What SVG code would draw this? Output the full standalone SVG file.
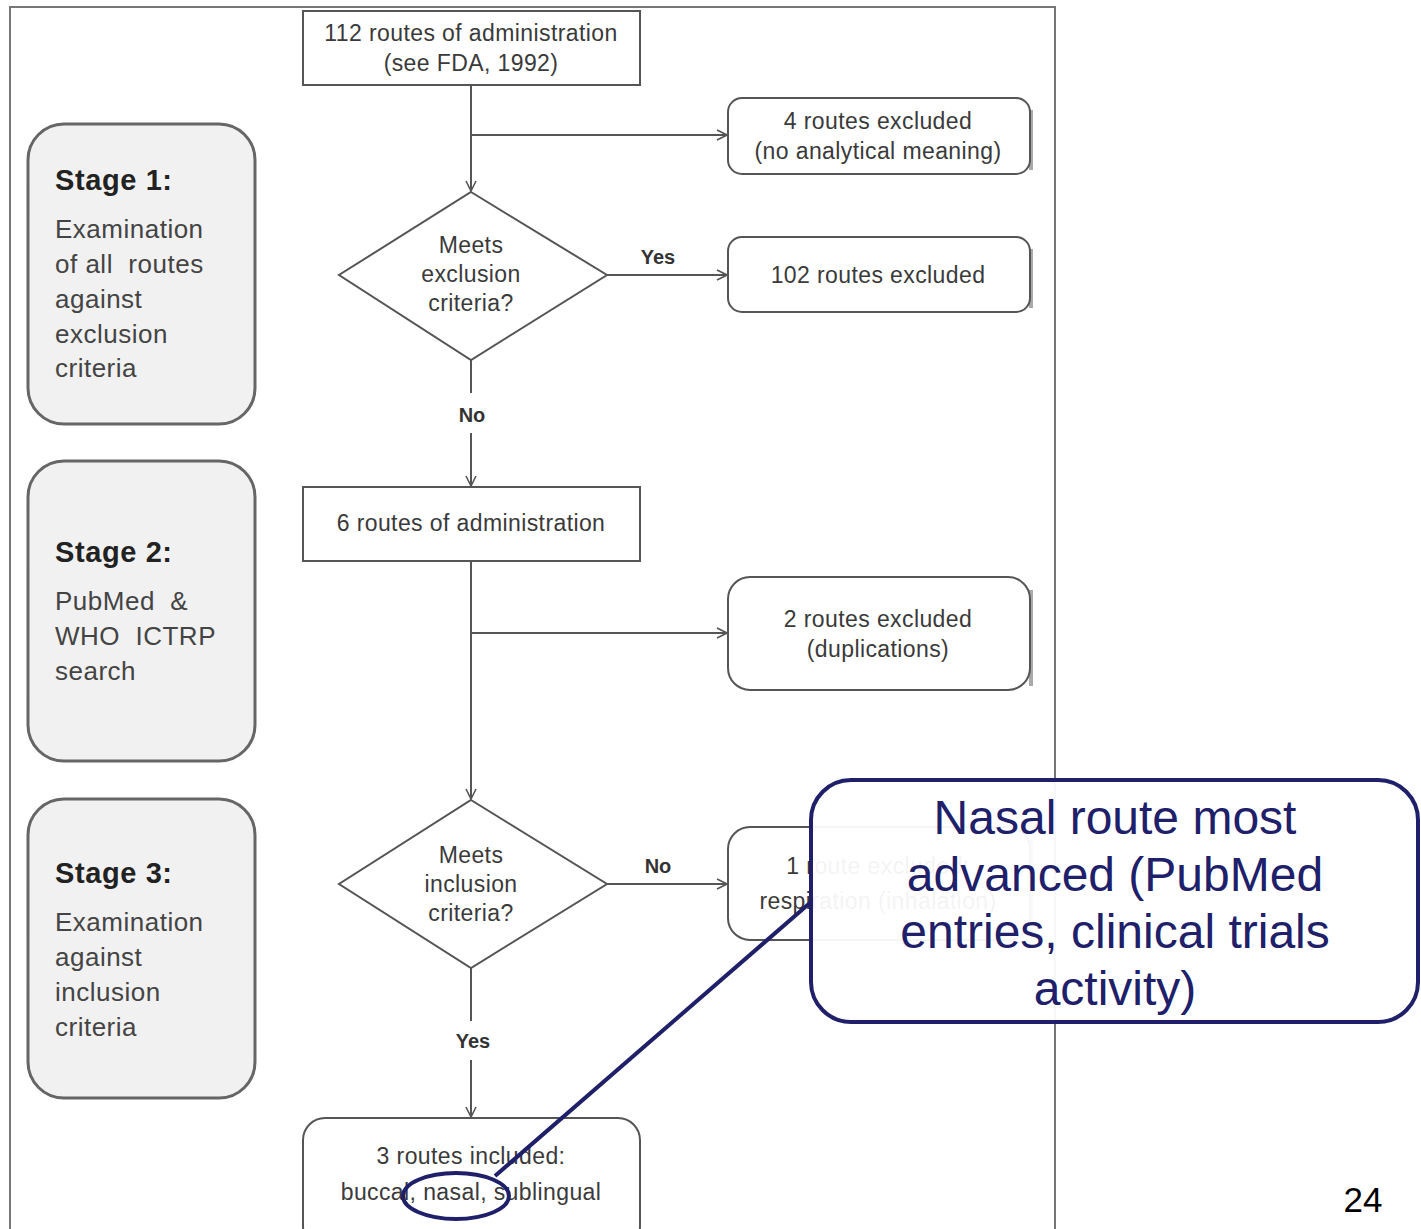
<svg xmlns="http://www.w3.org/2000/svg" width="1421" height="1229" viewBox="0 0 1421 1229">
<defs>
<style>
.t{font-family:"Liberation Sans",Arial,sans-serif;font-size:23px;letter-spacing:0.4px;fill:#3a3a3a;text-anchor:middle}
.lbl{font-family:"Liberation Sans",Arial,sans-serif;font-size:20px;font-weight:bold;fill:#333;text-anchor:middle}
.box{fill:#fff;stroke:#555;stroke-width:2}
.shadow{fill:none;stroke:#aaa;stroke-width:4}
.stage{fill:#f1f1f1;stroke:#666;stroke-width:3}
.sh{font-family:"Liberation Sans",Arial,sans-serif;font-size:29px;letter-spacing:0.6px;font-weight:bold;fill:#222}
.sb{font-family:"Liberation Sans",Arial,sans-serif;font-size:26px;letter-spacing:0.5px;fill:#444;white-space:pre}
.conn{fill:none;stroke:#555;stroke-width:2}
.call{font-family:"Liberation Sans",Arial,sans-serif;font-size:48px;fill:#20206a;text-anchor:middle}
</style>
<marker id="arr" viewBox="0 0 12 12" refX="11" refY="6" markerWidth="12" markerHeight="12" markerUnits="userSpaceOnUse" orient="auto">
<path d="M1,1 L11,6 L1,11" fill="none" stroke="#555" stroke-width="1.6"/>
</marker>
</defs>
<rect width="1421" height="1229" fill="#fff"/>
<path d="M10,1229 V7 H1055 V1229" fill="none" stroke="#777" stroke-width="2"/>

<g id="connectors">
<line class="conn" x1="471" y1="85" x2="471" y2="191" marker-end="url(#arr)"/>
<line class="conn" x1="471" y1="135" x2="727" y2="135" marker-end="url(#arr)"/>
<line class="conn" x1="607" y1="275" x2="727" y2="275" marker-end="url(#arr)"/>
<line class="conn" x1="471" y1="360" x2="471" y2="393"/>
<line class="conn" x1="471" y1="433" x2="471" y2="486" marker-end="url(#arr)"/>
<line class="conn" x1="471" y1="561" x2="471" y2="799" marker-end="url(#arr)"/>
<line class="conn" x1="471" y1="633" x2="727" y2="633" marker-end="url(#arr)"/>
<line class="conn" x1="607" y1="884" x2="727" y2="884" marker-end="url(#arr)"/>
<line class="conn" x1="471" y1="968" x2="471" y2="1021"/>
<line class="conn" x1="471" y1="1060" x2="471" y2="1117" marker-end="url(#arr)"/>
<text class="lbl" x="658" y="264">Yes</text>
<text class="lbl" x="472" y="422">No</text>
<text class="lbl" x="658" y="873">No</text>
<text class="lbl" x="473" y="1048">Yes</text>
</g>

<g id="stage1">
<rect class="stage" x="28" y="124" width="227" height="300" rx="36"/>
<text class="sh" x="55" y="190">Stage 1:</text>
<text class="sb" x="55" y="238">Examination</text>
<text class="sb" x="55" y="273">of all  routes</text>
<text class="sb" x="55" y="308">against</text>
<text class="sb" x="55" y="343">exclusion</text>
<text class="sb" x="55" y="377">criteria</text>
</g>
<g id="stage2">
<rect class="stage" x="28" y="461" width="227" height="300" rx="36"/>
<text class="sh" x="55" y="562">Stage 2:</text>
<text class="sb" x="55" y="610">PubMed  &amp;</text>
<text class="sb" x="55" y="645">WHO  ICTRP</text>
<text class="sb" x="55" y="680">search</text>
</g>
<g id="stage3">
<rect class="stage" x="28" y="799" width="227" height="299" rx="36"/>
<text class="sh" x="55" y="883">Stage 3:</text>
<text class="sb" x="55" y="931">Examination</text>
<text class="sb" x="55" y="966">against</text>
<text class="sb" x="55" y="1001">inclusion</text>
<text class="sb" x="55" y="1036">criteria</text>
</g>

<g id="n112">
<rect class="box" x="303" y="11" width="337" height="74"/>
<text class="t" x="471" y="41">112 routes of administration</text>
<text class="t" x="471" y="71">(see FDA, 1992)</text>
</g>
<g id="ex4">
<line class="shadow" x1="1031" y1="110" x2="1031" y2="170"/>
<rect class="box" x="728" y="98" width="302" height="76" rx="14"/>
<text class="t" x="878" y="129">4 routes excluded</text>
<text class="t" x="878" y="159">(no analytical meaning)</text>
</g>
<g id="d1">
<polygon class="box" points="471,192 607,275 471,360 339,275"/>
<text class="t" x="471" y="253">Meets</text>
<text class="t" x="471" y="282">exclusion</text>
<text class="t" x="471" y="311">criteria?</text>
</g>
<g id="ex102">
<line class="shadow" x1="1031" y1="249" x2="1031" y2="308"/>
<rect class="box" x="728" y="237" width="302" height="75" rx="14"/>
<text class="t" x="878" y="283">102 routes excluded</text>
</g>
<g id="n6">
<rect class="box" x="303" y="487" width="337" height="74"/>
<text class="t" x="471" y="531">6 routes of administration</text>
</g>
<g id="ex2">
<line class="shadow" x1="1031" y1="590" x2="1031" y2="686"/>
<rect class="box" x="728" y="577" width="302" height="113" rx="22"/>
<text class="t" x="878" y="627">2 routes excluded</text>
<text class="t" x="878" y="657">(duplications)</text>
</g>
<g id="d2">
<polygon class="box" points="471,800 607,884 471,968 339,884"/>
<text class="t" x="471" y="863">Meets</text>
<text class="t" x="471" y="892">inclusion</text>
<text class="t" x="471" y="921">criteria?</text>
</g>
<g id="ex1">
<line class="shadow" x1="1031" y1="840" x2="1031" y2="936"/>
<rect class="box" x="728" y="827" width="302" height="113" rx="22"/>
<text class="t" x="878" y="874">1 route excluded:</text>
<text class="t" x="878" y="909">respiration (inhalation)</text>
</g>
<g id="inc3">
<rect class="box" x="303" y="1118" width="337" height="130" rx="22"/>
<text class="t" x="471" y="1164">3 routes included:</text>
<text class="t" x="471" y="1200">buccal, nasal, sublingual</text>
</g>

<g id="callout">
<line x1="811" y1="902" x2="495" y2="1176" stroke="#20206a" stroke-width="4"/>
<ellipse cx="456" cy="1196" rx="53" ry="23" fill="none" stroke="#20206a" stroke-width="4"/>
<rect x="811" y="780" width="607" height="242" rx="40" fill="#fff" fill-opacity="0.94" stroke="#20206a" stroke-width="4"/>
<text class="call" x="1115" y="834">Nasal route most</text>
<text class="call" x="1115" y="891">advanced (PubMed</text>
<text class="call" x="1115" y="948">entries, clinical trials</text>
<text class="call" x="1115" y="1005">activity)</text>
</g>
<text x="1363" y="1212" font-family="'Liberation Sans',Arial,sans-serif" font-size="35" fill="#000" text-anchor="middle">24</text>
</svg>
